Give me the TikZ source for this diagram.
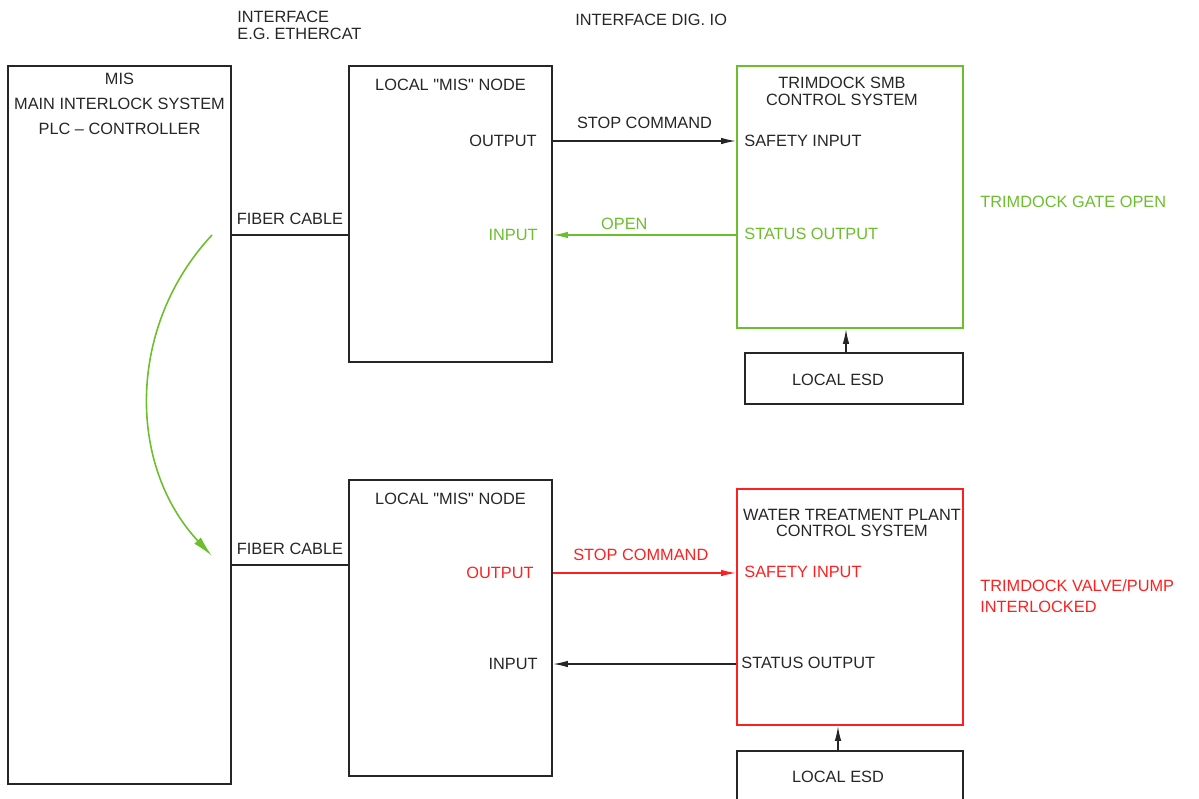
\documentclass[tikz,border=0pt]{standalone}
\usepackage{fontspec}
\setmainfont{Liberation Sans}[Ligatures=TeXOff]
\usepackage{tikz}
\usetikzlibrary{arrows.meta,positioning,fit}
\definecolor{Ink}{HTML}{262626}
\definecolor{OkGreen}{HTML}{6CBE2D}
\definecolor{StopRed}{HTML}{FF1F1F}
\tikzset{
  block/.style={draw=Ink,line width=0.9pt,inner sep=0pt},
  blockgreen/.style={block,draw=OkGreen},
  blockred/.style={block,draw=StopRed},
  lbl/.style={inner sep=0pt,font=\fontsize{9.3}{12}\selectfont,text=Ink},
  lblgreen/.style={lbl,text=OkGreen},
  lblred/.style={lbl,text=StopRed},
  link/.style={line width=0.9pt,draw=Ink},
  sig/.style={-{Latex[length=3mm,width=1.3mm]},line width=0.9pt,draw=Ink},
  siggreen/.style={sig,draw=OkGreen},
  sigred/.style={sig,draw=StopRed},
  handover/.style={-{Latex[length=4.2mm,width=1.8mm]},line width=0.9pt,draw=OkGreen}
}

\begin{document}
\begin{tikzpicture}[x=0.2mm,y=-0.2mm]
  \clip (0,0) rectangle (1199,799);
  % blocks
  \node[block,fit={(8,66)(231,784)}] (mis) {};
  \node[block,fit={(349,66)(552,362)}] (locA) {};
  \node[block,fit={(349,480)(552,776)}] (locB) {};
  \node[blockgreen,fit={(737,66)(963,328)}] (smb) {};
  \node[block,fit={(745,353)(963,404)}] (esdA) {};
  \node[blockred,fit={(737,489)(963,725)}] (wtp) {};
  \node[block,fit={(737,751)(963,840)}] (esdB) {};

  % headings
  \node[lbl,anchor=north west,align=left,font=\fontsize{9.3}{9.7}\selectfont] (ifbus) at (237,11) {INTERFACE\\E.G. ETHERCAT};
  \node[lbl,anchor=west] (ifio) at (575,20) {INTERFACE DIG. IO};

  % block titles
  \node[lbl,align=center,font=\fontsize{9.3}{14.2}\selectfont,below=1.5mm of mis.north] (mistxt) {MIS\\MAIN INTERLOCK SYSTEM\\PLC – CONTROLLER};
  \node[lbl,below=2.8mm of locA.north] (locAtxt) {LOCAL "MIS" NODE};
  \node[lbl,below=2.8mm of locB.north] (locBtxt) {LOCAL "MIS" NODE};
  \node[lbl,align=center,font=\fontsize{9.3}{9.7}\selectfont] (smbtxt) at (842,91) {TRIMDOCK SMB\\CONTROL SYSTEM};
  \node[lbl,align=center,font=\fontsize{9.3}{9.1}\selectfont] (wtptxt) at (852,523) {WATER TREATMENT PLANT\\CONTROL SYSTEM};
  \node[lbl] (esdAtxt) at (838,380) {LOCAL ESD};
  \node[lbl] (esdBtxt) at (838,777) {LOCAL ESD};

  % ports
  \node[lbl,anchor=east] (outA) at (537,141) {OUTPUT};
  \node[lblgreen,anchor=east] (inA) at (538,235) {INPUT};
  \node[lbl,anchor=west] (safeA) at (744,141) {SAFETY INPUT};
  \node[lblgreen,anchor=west] (statA) at (744,234) {STATUS OUTPUT};
  \node[lblred,anchor=east] (outB) at (534,573) {OUTPUT};
  \node[lbl,anchor=east] (inB) at (538,664) {INPUT};
  \node[lblred,anchor=west] (safeB) at (744,572) {SAFETY INPUT};
  \node[lbl,anchor=west] (statB) at (741,663) {STATUS OUTPUT};

  % states
  \node[lblgreen,anchor=west] (gate) at (980,202) {TRIMDOCK GATE OPEN};
  \node[lblred,anchor=north west,align=left,font=\fontsize{9.3}{12}\selectfont] (pump) at (980,579) {TRIMDOCK VALVE/PUMP\\INTERLOCKED};

  % fiber links
  \coordinate (cabA) at (290,235);
  \coordinate (cabB) at (290,565);
  \draw[link] (mis.east |- cabA) -- node[lbl,above=2mm] {FIBER CABLE} (locA.west |- cabA);
  \draw[link] (mis.east |- cabB) -- node[lbl,above=2mm] {FIBER CABLE} (locB.west |- cabB);

  % digital io
  \draw[sig] (locA.east |- outA) -- node[lbl,above=2.4mm] {STOP COMMAND} (smb.west |- outA);
  \draw[siggreen] (smb.west |- inA) -- node[lblgreen,pos=0.61,above=1mm] {OPEN} (locA.east |- inA);
  \draw[sigred] (locB.east |- outB) -- node[lblred,pos=0.48,above=2.4mm] {STOP COMMAND} (wtp.west |- outB);
  \draw[sig] (wtp.west |- inB) -- (locB.east |- inB);

  % local esd
  \draw[sig] (esdA.north -| 846,0) -- (smb.south -| 846,0);
  \draw[sig] (esdB.north -| 838,0) -- (wtp.south -| 838,0);

  % handover arc
  \coordinate (arcA) at (212,235);
  \coordinate (arcB) at (212,556);
  \draw[handover] (arcA) .. controls +(-85,91) and +(-85,-91) .. (arcB);
\end{tikzpicture}
\end{document}
